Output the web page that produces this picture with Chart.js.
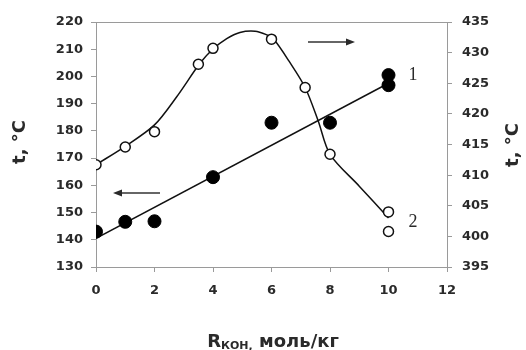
<!DOCTYPE html>
<html>
<head>
<meta charset="utf-8">
<script src="https://cdn.jsdelivr.net/npm/chart.js@4"></script>
<style>
    html, body { margin: 0; padding: 0; background: #fff; }
    #wrap { width: 526px; height: 350px; position: relative; }
</style>
</head>
<body>
<div id="wrap"><canvas id="grafico"></canvas></div>
<script>
// serie 1 (eje izquierdo), puntos negros
const x1 = [0, 1, 2, 4, 6, 8, 10, 10];
const t1 = [143, 146.6, 146.8, 163, 183, 183, 200.5, 196.8];
// recta de ajuste de la serie 1
const rectaX = [0, 10];
const rectaT = [140.5, 197.5];
// serie 2 (eje derecho), círculos abiertos
const x2 = [0, 1, 2, 3.5, 4, 6, 7.15, 8, 10, 10];
const t2 = [411.7, 414.6, 417.1, 428.1, 430.7, 432.2, 424.3, 413.4, 404.0, 400.8];
// curva suave de la serie 2
const curvaX = [0, 1, 2, 2.76, 3.56, 4, 4.47, 4.92, 5.44, 5.84, 6.06, 6.6, 7.15, 7.6, 8, 9, 10];
const curvaT = [411.7, 414.7, 418.2, 422.8, 428.3, 430.6, 432.3, 433.3, 433.5, 432.9, 432.3, 428.6, 424.3, 418.8, 413.4, 408.2, 403];

const xTicks = [0, 2, 4, 6, 8, 10, 12];
const yTicks = [130, 140, 150, 160, 170, 180, 190, 200, 210, 220];
const y2Ticks = [395, 400, 405, 410, 415, 420, 425, 430, 435];

const pares = (xs, ys) => xs.map((x, i) => ({ x: x, y: ys[i] }));

const colorEje = '#9a9a9a';
const colorTexto = '#2a2a2a';
const fuenteTicks = { family: 'DejaVu Sans', size: 13, weight: 'bold' };

function flecha(ctx, x0, x1, y) {
    const dir = x1 > x0 ? 1 : -1;
    ctx.beginPath();
    ctx.moveTo(x0, y);
    ctx.lineTo(x1 - dir * 6, y);
    ctx.stroke();
    ctx.beginPath();
    ctx.moveTo(x1, y);
    ctx.lineTo(x1 - dir * 9, y - 3.5);
    ctx.lineTo(x1 - dir * 9, y + 3.5);
    ctx.closePath();
    ctx.fill();
}

const extras = {
    id: 'extras',
    afterDraw(chart) {
        const ctx = chart.ctx;
        const a = chart.chartArea;
        ctx.save();
        // marco superior
        ctx.strokeStyle = colorEje;
        ctx.lineWidth = 1;
        ctx.beginPath();
        ctx.moveTo(a.left, a.top + 0.5);
        ctx.lineTo(a.right, a.top + 0.5);
        ctx.stroke();

        ctx.fillStyle = colorTexto;
        ctx.strokeStyle = '#333';
        ctx.lineWidth = 1.5;
        flecha(ctx, 160, 113, 193);
        flecha(ctx, 308, 355, 42);

        // títulos de los ejes y
        ctx.font = 'bold 18px "DejaVu Sans"';
        ctx.textAlign = 'center';
        ctx.textBaseline = 'middle';
        [[20, 142], [513, 145]].forEach(([px, py]) => {
            ctx.save();
            ctx.translate(px, py);
            ctx.rotate(-Math.PI / 2);
            ctx.fillText('t, °C', 0, 0);
            ctx.restore();
        });

        // título del eje x: R con subíndice
        const partes = [
            { t: 'R', f: 'bold 18px "DejaVu Sans"', dy: 0 },
            { t: 'КОН,', f: 'bold 11px "DejaVu Sans"', dy: 2 },
            { t: ' моль/кг', f: 'bold 18px "DejaVu Sans"', dy: 0 }
        ];
        let total = 0;
        partes.forEach(p => { ctx.font = p.f; p.w = ctx.measureText(p.t).width; total += p.w; });
        let cx = 273 - total / 2;
        ctx.textAlign = 'left';
        ctx.textBaseline = 'alphabetic';
        partes.forEach(p => {
            ctx.font = p.f;
            ctx.fillText(p.t, cx, 347 + p.dy);
            cx += p.w;
        });

        // números de las curvas
        ctx.font = '18px "Liberation Serif"';
        ctx.textAlign = 'center';
        ctx.textBaseline = 'middle';
        ctx.fillText('1', 413, 75);
        ctx.fillText('2', 413, 222);
        ctx.restore();
    }
};

new Chart(document.getElementById('grafico').getContext('2d'), {
    type: 'scatter',
    data: {
        datasets: [
            {
                data: pares(x1, t1), yAxisID: 'y', order: 0,
                pointRadius: 6.5, pointBackgroundColor: '#000', pointBorderColor: '#000',
                showLine: false
            },
            {
                data: pares(x2, t2), yAxisID: 'y2', order: 0,
                pointRadius: 5, pointBackgroundColor: '#fff', pointBorderColor: '#111',
                pointBorderWidth: 1.5, showLine: false
            },
            {
                data: pares(rectaX, rectaT), yAxisID: 'y', order: 1,
                showLine: true, borderColor: '#111', borderWidth: 1.5, pointRadius: 0
            },
            {
                data: pares(curvaX, curvaT), yAxisID: 'y2', order: 1,
                showLine: true, borderColor: '#111', borderWidth: 1.5, pointRadius: 0,
                tension: 0.3
            }
        ]
    },
    options: {
        responsive: true,
        maintainAspectRatio: false,
        animation: false,
        layout: { padding: { top: 22, left: 0, right: 0, bottom: 0 } },
        plugins: { legend: { display: false }, tooltip: { enabled: false } },
        scales: {
            x: {
                type: 'linear', min: 0, max: 12,
                afterFit: s => { s.height = 83; },
                afterBuildTicks: s => { s.ticks = xTicks.map(v => ({ value: v })); },
                grid: { drawOnChartArea: false, tickLength: 5, color: colorEje },
                border: { color: colorEje },
                ticks: { font: fuenteTicks, color: colorTexto, padding: 11, maxRotation: 0 }
            },
            y: {
                position: 'left', min: 130, max: 220,
                afterFit: s => { s.width = 96; },
                afterBuildTicks: s => { s.ticks = yTicks.map(v => ({ value: v })); },
                grid: { drawOnChartArea: false, tickLength: 5, color: colorEje },
                border: { color: colorEje },
                ticks: { font: fuenteTicks, color: colorTexto, padding: 8 }
            },
            y2: {
                position: 'right', min: 395, max: 435,
                afterFit: s => { s.width = 79; },
                afterBuildTicks: s => { s.ticks = y2Ticks.map(v => ({ value: v })); },
                grid: { drawOnChartArea: false, tickLength: 5, color: colorEje },
                border: { color: colorEje },
                ticks: { font: fuenteTicks, color: colorTexto, padding: 10 }
            }
        }
    },
    plugins: [extras]
});
</script>
</body>
</html>
